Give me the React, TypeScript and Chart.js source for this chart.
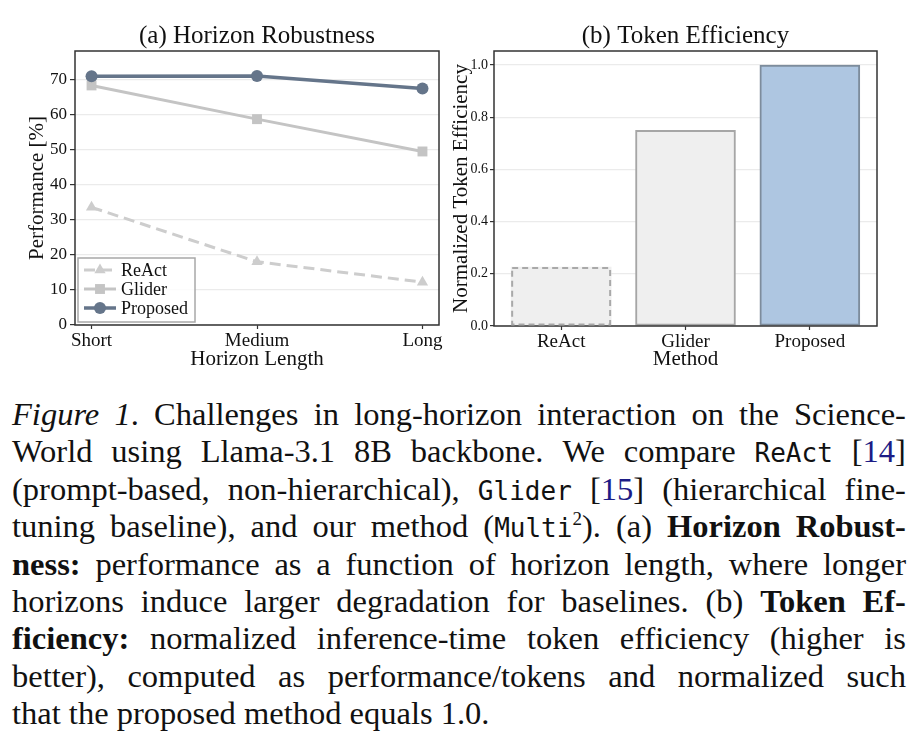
import React, { useEffect, useRef } from 'react';
import { Chart, registerables } from 'chart.js';

Chart.register(...registerables);

// ---------- data ----------
const horizonLabels = ['Short', 'Medium', 'Long'];
const seriesNames = ['ReAct', 'Glider', 'Proposed'];
const reactPerf = [33.5, 18.0, 12.2];
const gliderPerf = [68.2, 58.6, 49.4];
const proposedPerf = [70.8, 70.9, 67.3];
const perfTicks = [0, 10, 20, 30, 40, 50, 60, 70];

const methodLabels = ['ReAct', 'Glider', 'Proposed'];
const tokenEfficiency = [0.226, 0.75, 1.0];
const effTicks = [0, 0.2, 0.4, 0.6, 0.8, 1.0];

// ---------- styles ----------
const SERIF = '"Liberation Serif", "Times New Roman", serif';
const FRAME = '#333333';
const GRID = '#ebebeb';
const TEXT = '#111111';

const framePlugin = {
  id: 'frame',
  afterDatasetsDraw(chart: any) {
    const { ctx, chartArea: a } = chart;
    ctx.save();
    ctx.strokeStyle = FRAME;
    ctx.lineWidth = 1.5;
    ctx.setLineDash([]);
    ctx.strokeRect(a.left, a.top, a.right - a.left, a.bottom - a.top);
    ctx.restore();
  },
};

function drawMarker(ctx: CanvasRenderingContext2D, style: string, x: number, y: number, r: number, color: string) {
  ctx.fillStyle = color;
  ctx.beginPath();
  if (style === 'circle') {
    ctx.arc(x, y, r, 0, Math.PI * 2);
  } else if (style === 'rect') {
    const s = r * Math.SQRT1_2;
    ctx.rect(x - s, y - s, 2 * s, 2 * s);
  } else {
    let rad = 0;
    ctx.moveTo(x + Math.sin(rad) * r, y - Math.cos(rad) * r);
    rad += (2 * Math.PI) / 3;
    ctx.lineTo(x + Math.sin(rad) * r, y - Math.cos(rad) * r);
    rad += (2 * Math.PI) / 3;
    ctx.lineTo(x + Math.sin(rad) * r, y - Math.cos(rad) * r);
    ctx.closePath();
  }
  ctx.fill();
}

const lineLegendPlugin = {
  id: 'lineLegend',
  afterDraw(chart: any) {
    const { ctx, chartArea: a } = chart;
    const x0 = a.left + 3;
    const y0 = a.bottom - 67;
    const w = 117;
    const h = 64;
    ctx.save();
    ctx.fillStyle = 'rgba(255,255,255,0.85)';
    ctx.fillRect(x0, y0, w, h);
    ctx.strokeStyle = '#a8a8a8';
    ctx.lineWidth = 1.5;
    ctx.strokeRect(x0, y0, w, h);
    chart.data.datasets.forEach((ds: any, i: number) => {
      const cy = y0 + 12 + i * 19;
      ctx.strokeStyle = ds.borderColor;
      ctx.lineWidth = ds.borderWidth;
      ctx.setLineDash(ds.borderDash || []);
      ctx.beginPath();
      ctx.moveTo(x0 + 6, cy);
      ctx.lineTo(x0 + 38, cy);
      ctx.stroke();
      ctx.setLineDash([]);
      drawMarker(ctx, ds.pointStyle, x0 + 22, cy, ds.pointRadius, ds.pointBackgroundColor);
      ctx.fillStyle = TEXT;
      ctx.font = `18px ${SERIF}`;
      ctx.textBaseline = 'middle';
      ctx.textAlign = 'left';
      ctx.fillText(ds.label, x0 + 43, cy + 1);
    });
    ctx.restore();
  },
};

const dashedBarPlugin = {
  id: 'dashedBar',
  afterDatasetsDraw(chart: any) {
    const { ctx } = chart;
    const meta = chart.getDatasetMeta(0);
    const el = meta.data[0];
    if (!el) return;
    const { x, y, base, width } = el.getProps(['x', 'y', 'base', 'width'], true);
    ctx.save();
    ctx.strokeStyle = '#a9a9a9';
    ctx.lineWidth = 2;
    ctx.setLineDash([6, 4]);
    ctx.strokeRect(x - width / 2 + 1, y + 1, width - 2, base - y - 2);
    ctx.restore();
  },
};

function LineChart() {
  const ref = useRef<HTMLCanvasElement>(null);
  useEffect(() => {
    if (!ref.current) return;
    const mk = (vals: number[]) => vals.map((v, i) => ({ x: i, y: v }));
    const chart = new Chart(ref.current, {
      type: 'line',
      data: {
        datasets: [
          {
            label: seriesNames[0],
            data: mk(reactPerf),
            borderColor: '#cdcdcd',
            backgroundColor: '#cdcdcd',
            pointBackgroundColor: '#cdcdcd',
            pointBorderColor: '#cdcdcd',
            pointBorderWidth: 0,
            borderWidth: 3,
            borderDash: [11, 6],
            pointStyle: 'triangle',
            pointRadius: 6.5,
            order: 3,
          },
          {
            label: seriesNames[1],
            data: mk(gliderPerf),
            borderColor: '#c4c4c4',
            backgroundColor: '#c4c4c4',
            pointBackgroundColor: '#c4c4c4',
            pointBorderColor: '#c4c4c4',
            pointBorderWidth: 0,
            borderWidth: 3,
            pointStyle: 'rect',
            pointRadius: 7,
            order: 2,
          },
          {
            label: seriesNames[2],
            data: mk(proposedPerf),
            borderColor: '#65758a',
            backgroundColor: '#65758a',
            pointBackgroundColor: '#65758a',
            pointBorderColor: '#65758a',
            pointBorderWidth: 0,
            borderWidth: 3.5,
            pointStyle: 'circle',
            pointRadius: 6,
            order: 1,
          },
        ] as any,
      },
      options: {
        responsive: false,
        animation: false,
        layout: { padding: { left: 0, right: 2, top: 0, bottom: 0 } },
        plugins: {
          legend: { display: false },
          tooltip: { enabled: false },
          title: {
            display: true,
            text: '(a) Horizon Robustness',
            font: { size: 25, family: SERIF, weight: 'normal' },
            color: TEXT,
            padding: { top: 21, bottom: 0 },
            fullSize: false,
          },
        },
        scales: {
          x: {
            type: 'linear',
            min: -0.1,
            max: 2.1,
            afterBuildTicks: (s: any) => {
              s.ticks = horizonLabels.map((_, i) => ({ value: i }));
            },
            ticks: {
              callback: (v: any) => horizonLabels[Math.round(Number(v))],
              font: { size: 19, family: SERIF },
              color: TEXT,
              padding: 1,
              maxRotation: 0,
              autoSkip: false,
            },
            grid: { drawOnChartArea: false, tickLength: 4, tickColor: FRAME, tickWidth: 1.2 },
            border: { display: false },
            title: {
              display: true,
              text: 'Horizon Length',
              font: { size: 21, family: SERIF },
              color: TEXT,
              padding: { top: 0, bottom: 8 },
            },
            afterFit: (s: any) => {
              s.height = 55;
            },
          },
          y: {
            min: 0,
            max: 78,
            afterBuildTicks: (s: any) => {
              s.ticks = perfTicks.map((v) => ({ value: v }));
            },
            ticks: { font: { size: 17, family: SERIF }, color: TEXT, padding: 3 },
            grid: { color: GRID, lineWidth: 1.2, tickLength: 5, tickColor: FRAME, tickWidth: 1.2 },
            border: { display: false },
            title: {
              display: true,
              text: 'Performance [%]',
              font: { size: 21, family: SERIF },
              color: TEXT,
              padding: { top: 25, bottom: 0 },
            },
            afterFit: (s: any) => {
              s.width = 75;
            },
          },
        },
      } as any,
      plugins: [framePlugin, lineLegendPlugin],
    });
    return () => chart.destroy();
  }, []);
  return <canvas ref={ref} width={446} height={380} style={{ width: 446, height: 380, display: 'block' }} />;
}

function BarChart() {
  const ref = useRef<HTMLCanvasElement>(null);
  useEffect(() => {
    if (!ref.current) return;
    const chart = new Chart(ref.current, {
      type: 'bar',
      data: {
        datasets: [
          {
            label: 'Normalized Token Efficiency',
            data: tokenEfficiency.map((v, i) => ({ x: i, y: v })),
            backgroundColor: ['#efefef', '#efefef', '#aec6e1'],
            borderColor: ['#a9a9a9', '#a6a6a6', '#7d8c9c'],
            borderWidth: [0, 2, 2],
            borderSkipped: false,
            barThickness: 100,
          },
        ] as any,
      },
      options: {
        responsive: false,
        animation: false,
        layout: { padding: { left: 0, right: 45, top: 0, bottom: 0 } },
        plugins: {
          legend: { display: false },
          tooltip: { enabled: false },
          title: {
            display: true,
            text: '(b) Token Efficiency',
            font: { size: 25, family: SERIF, weight: 'normal' },
            color: TEXT,
            padding: { top: 21, bottom: 0 },
            fullSize: false,
          },
        },
        scales: {
          x: {
            type: 'linear',
            min: -0.54,
            max: 2.54,
            offset: false,
            afterBuildTicks: (s: any) => {
              s.ticks = methodLabels.map((_, i) => ({ value: i }));
            },
            ticks: {
              callback: (v: any) => methodLabels[Math.round(Number(v))],
              font: { size: 19, family: SERIF },
              color: TEXT,
              padding: 1,
              maxRotation: 0,
              autoSkip: false,
            },
            grid: { offset: false, drawOnChartArea: false, tickLength: 4, tickColor: FRAME, tickWidth: 1.2 },
            border: { display: false },
            title: {
              display: true,
              text: 'Method',
              font: { size: 21, family: SERIF },
              color: TEXT,
              padding: { top: 0, bottom: 8 },
            },
            afterFit: (s: any) => {
              s.height = 54;
            },
          },
          y: {
            min: 0,
            max: 1.054,
            afterBuildTicks: (s: any) => {
              s.ticks = effTicks.map((v) => ({ value: v }));
            },
            ticks: {
              callback: (v: any) => Number(v).toFixed(1),
              font: { size: 14, family: SERIF },
              color: TEXT,
              padding: 2,
            },
            grid: { color: GRID, lineWidth: 1.2, tickLength: 4, tickColor: FRAME, tickWidth: 1.2 },
            border: { display: false },
            title: {
              display: true,
              text: 'Normalized Token Efficiency',
              font: { size: 21, family: SERIF },
              color: TEXT,
              padding: { top: 3, bottom: 0 },
            },
            afterFit: (s: any) => {
              s.width = 48;
            },
          },
        },
      } as any,
      plugins: [framePlugin, dashedBarPlugin],
    });
    return () => chart.destroy();
  }, []);
  return <canvas ref={ref} width={476} height={380} style={{ width: 476, height: 380, display: 'block' }} />;
}

// ---------- caption ----------
const mono: React.CSSProperties = { fontFamily: '"DejaVu Sans Mono", monospace', fontSize: 26 };
const cite: React.CSSProperties = { color: '#1c1c86' };
const LH = 37.4;
const rowStyle: React.CSSProperties = {
  display: 'flex',
  justifyContent: 'space-between',
  alignItems: 'baseline',
  whiteSpace: 'nowrap',
  height: LH,
};

const words = (s: string) => s.split(' ').filter(Boolean).map((t) => <span>{t}</span>);

const captionLines: React.ReactNode[][] = [
  [<i>Figure</i>, <span><i>1</i>.</span>, ...words('Challenges in long-horizon interaction on the Science-')],
  [
    ...words('World using Llama-3.1 8B backbone. We compare'),
    <span style={mono}>ReAct</span>,
    <span>[<span style={cite}>14</span>]</span>,
  ],
  [
    ...words('(prompt-based, non-hierarchical),'),
    <span style={mono}>Glider</span>,
    <span>[<span style={cite}>15</span>]</span>,
    ...words('(hierarchical fine-'),
  ],
  [
    ...words('tuning baseline), and our method'),
    <span>
      (<span style={mono}>Multi</span>
      <sup style={{ fontSize: 19, lineHeight: 0 }}>2</sup>).
    </span>,
    <span>(a)</span>,
    <b>Horizon</b>,
    <b>Robust-</b>,
  ],
  [<b>ness:</b>, ...words('performance as a function of horizon length, where longer')],
  [...words('horizons induce larger degradation for baselines. (b)'), <b>Token</b>, <b>Ef-</b>],
  [<b>ficiency:</b>, ...words('normalized inference-time token efficiency (higher is')],
  [...words('better), computed as performance/tokens and normalized such')],
];
const captionLastLine = 'that the proposed method equals 1.0.';

function Caption() {
  return (
    <div
      style={{
        position: 'absolute',
        left: 12,
        top: 396,
        width: 894,
        fontFamily: SERIF,
        fontSize: 32.5,
        lineHeight: `${LH}px`,
        color: '#111',
      }}
    >
      {captionLines.map((ln, i) => (
        <div key={i} style={rowStyle}>
          {ln.map((node, j) => (
            <React.Fragment key={j}>{node}</React.Fragment>
          ))}
        </div>
      ))}
      <div style={{ height: LH, whiteSpace: 'nowrap' }}>{captionLastLine}</div>
    </div>
  );
}

export default function App() {
  return (
    <div style={{ position: 'absolute', left: 0, top: 0, width: 922, height: 742, background: '#fff', overflow: 'hidden' }}>
      <div style={{ position: 'absolute', left: 0, top: 0 }}>
        <LineChart />
      </div>
      <div style={{ position: 'absolute', left: 446, top: 0 }}>
        <BarChart />
      </div>
      <Caption />
    </div>
  );
}
